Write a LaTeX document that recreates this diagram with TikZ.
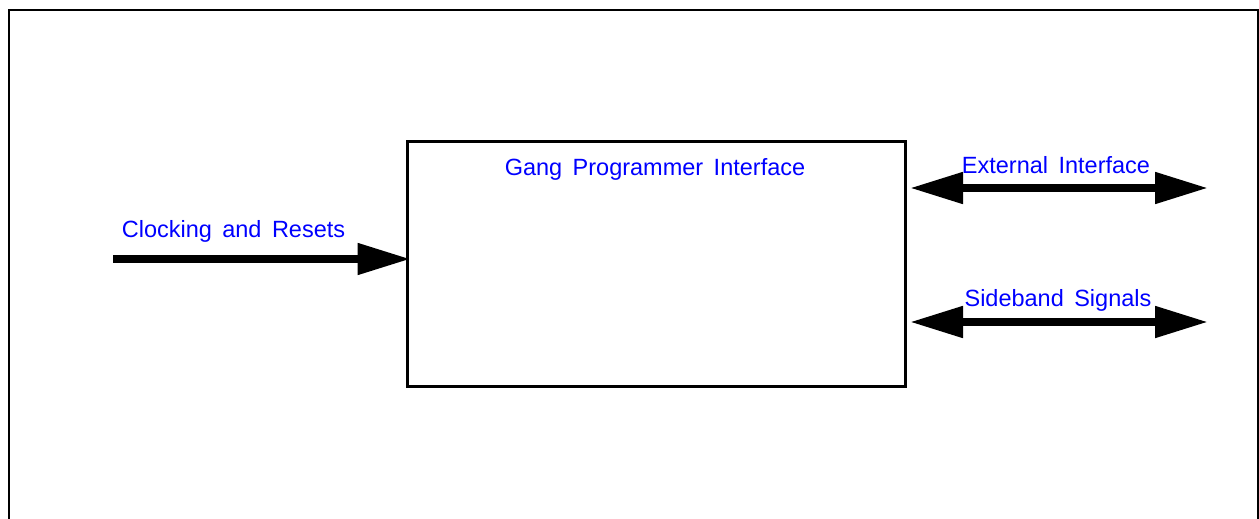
\documentclass[tikz,border=0pt]{standalone}
\usepackage{fontspec}
\setmainfont{Liberation Sans}[WordSpace=1.6]
\usetikzlibrary{arrows.meta}
\definecolor{lbl}{RGB}{0,0,255}
\begin{document}
\begin{tikzpicture}[x=1pt,y=-1pt,
  frame/.style={line width=2.5pt},
  blockbox/.style={draw,line width=3pt,inner sep=0pt,outer sep=0pt,
    minimum width=498.5pt,minimum height=244.5pt},
  lbltext/.style={text=lbl,inner sep=0pt,anchor=base,
    font=\fontsize{23.5}{28}\selectfont},
  bigarrow/.style={line width=8pt,-{Triangle[length=53pt,width=30pt]}},
  dblarrow/.style={line width=8pt,{Triangle[length=53pt,width=30pt]}-{Triangle[length=53pt,width=30pt]}}
]
\useasboundingbox (0,0) rectangle (1259,519);
% outer frame (open at bottom)
\draw[frame] (9,520) -- (9,10.25) -- (1258,10.25) -- (1258,520);
% main block
\node[blockbox] (box) at (656.25,263.75) {};
\node[lbltext] (gang) at (655,175) {Gang Programmer Interface};
% clocking
\coordinate (clkstart) at (113,259);
\draw[bigarrow,shorten >=-3.5pt] (clkstart) -- (clkstart -| box.west);
\node[lbltext] (clk) at (233.5,237) {Clocking and Resets};
% external interface
\coordinate (extend) at (1208,188);
\draw[dblarrow,shorten <=4.5pt] (extend -| box.east) -- (extend);
\node[lbltext] (ext) at (1056,173.3) {External Interface};
% sideband
\coordinate (sbend) at (1208,322);
\draw[dblarrow,shorten <=4.5pt] (sbend -| box.east) -- (sbend);
\node[lbltext] (sb) at (1058,306.7) {Sideband Signals};
\end{tikzpicture}
\end{document}
